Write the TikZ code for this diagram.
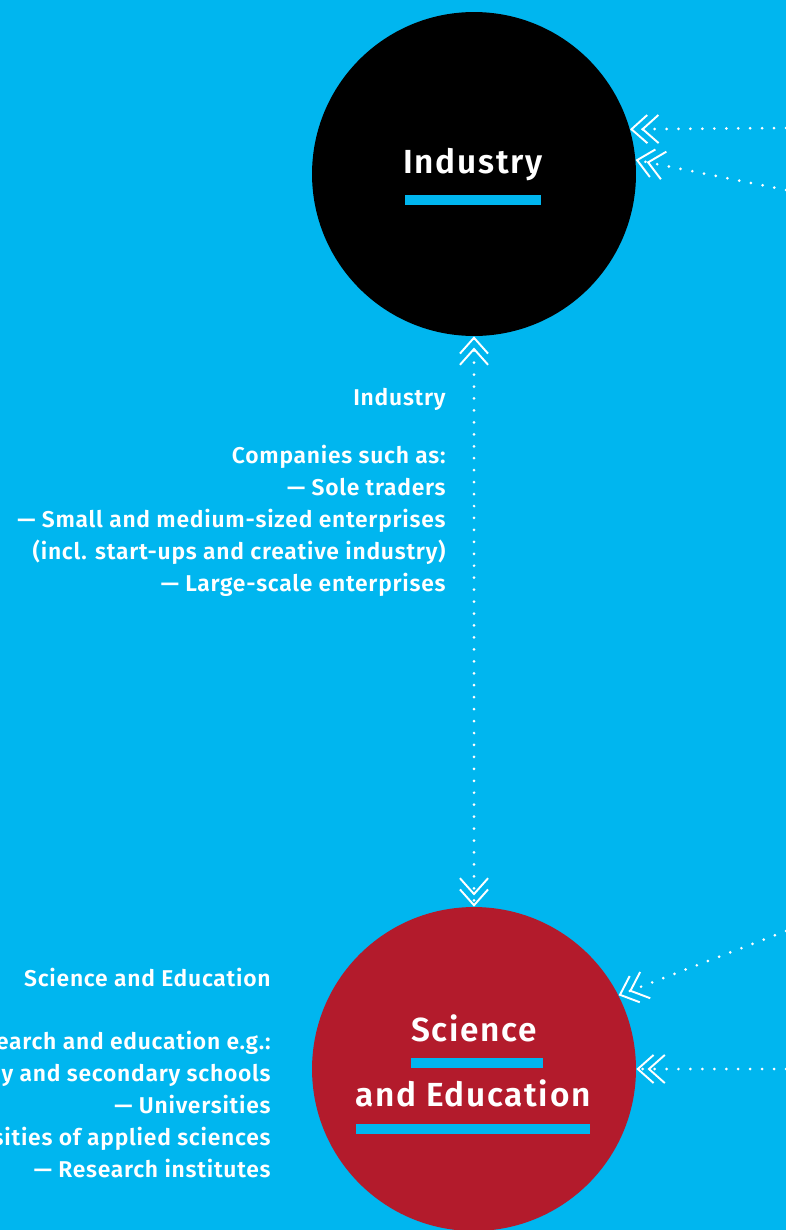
\documentclass[tikz,border=0pt]{standalone}
\usepackage{fontspec}
\setmainfont{Fira Sans}[BoldFont={* SemiBold}]
\usetikzlibrary{arrows.meta}
\definecolor{skyblue}{HTML}{00B6EF}
\definecolor{unired}{HTML}{B31B2C}
\tikzset{chev/.tip={Straight Barb[length=9pt,width=16pt,line width=1.1pt,sep=-4pt]Straight Barb[length=9pt,width=16pt,line width=1.1pt]}}

\begin{document}
\begin{tikzpicture}[x=0.02cm,y=-0.02cm,
	hub/.style={circle,minimum size=6.48cm,inner sep=0pt},
	title/.style={text=white,font=\bfseries\fontsize{19}{20}\selectfont\addfontfeature{LetterSpace=5}},
	bar/.style={fill=skyblue,minimum height=0.2cm,inner sep=0pt},
	side/.style={text=white,font=\bfseries\fontsize{13}{18.2}\selectfont\addfontfeature{LetterSpace=3.3},align=right,inner sep=0pt},
	link/.style={white,line width=1.7pt,line cap=round,dash pattern=on 0pt off 6.8pt,-{chev}}]
			\fill[skyblue] (0,0) rectangle (786,1230);
			\useasboundingbox (0,0) rectangle (786,1230);
			\clip (0,0) rectangle (786,1230);
			
			\node[hub,fill=black] (ind) at (474,174) {};
			\node[hub,fill=unired] (sci) at (474,1069) {};
			
			% labels in the circles
			\node[title] (indtitle) at (473,165) {Industry};
			\node[bar,minimum width=2.72cm] (indbar) at (473,200) {};
			\node[title] (scititle) at (474,1028) {Science};
			\node[bar,minimum width=2.66cm] (scibar) at (477,1063) {};
			\node[title] (edutitle) at (473,1093) {and Education};
			\node[bar,minimum width=4.7cm] (edubar) at (473,1129) {};
			
			% texts on the left
			\node[side,anchor=east] (indhead) at (446,399) {Industry};
			\node[side,anchor=north east] (indlist) at (446,445) {Companies such as:\\
				— Sole traders\\
				— Small and medium-sized enterprises\\
				(incl. start-ups and creative industry)\\
				— Large-scale enterprises};
			\node[side,anchor=east] (scihead) at (271,978) {Science and Education};
			\node[side,anchor=north east] (scilist) at (271,1031) {earch and education e.g.:\\
				y and secondary schools\\
				— Universities\\
				sities of applied sciences\\
				— Research institutes};
			
			% connectors
			\coordinate (in1) at (786,128);
			\coordinate (in2) at (786,190);
			\coordinate (in3) at (786,931);
			\coordinate (in4) at (786,1069);
			\draw[link,{chev}-{chev}] (ind.south) -- (sci.north);
			\draw[link] (in1) -- (ind.16.5);
			\draw[link] (in2) -- (ind.5);
			\draw[link] (in3) -- (sci.27);
			\draw[link] (in4) -- (sci.east);
		  \end{tikzpicture}
\end{document}
